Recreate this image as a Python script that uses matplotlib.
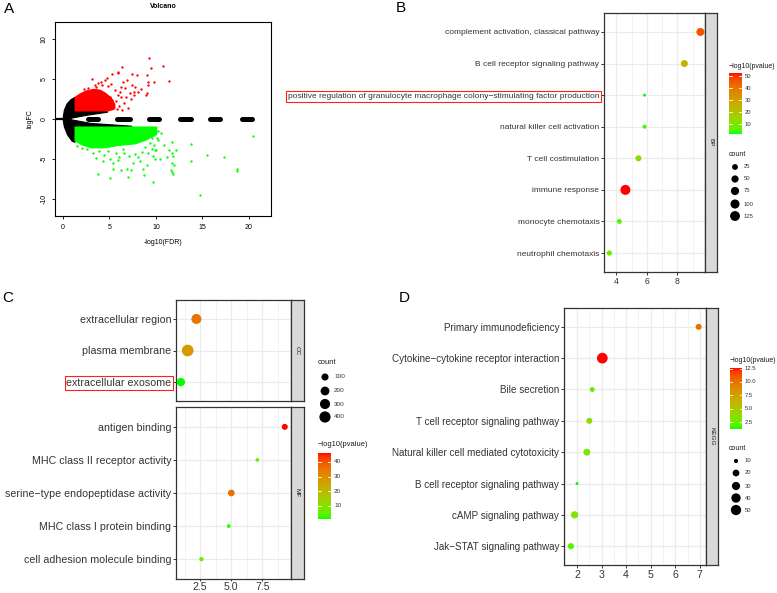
import numpy as np
import matplotlib
matplotlib.use("Agg")
import matplotlib.pyplot as plt
from matplotlib.colors import ListedColormap
from matplotlib.patches import Polygon

# ---------------- DATA ----------------
# Panel A: volcano (dense clouds given as envelopes, sparse points listed)
black_core_x = [0.0, 0.15, 0.45, 0.85, 1.3, 1.3, 4.8, 4.8, 2.5, 1.0, 0.7, 1.0, 3.0, 7.4, 7.4, 1.3, 1.3, 1.0, 0.5, 0.15]
black_core_y = [0.0, 1.1, 1.9, 2.4, 2.7, 1.0, 1.0, 0.85, 0.45, 0.12, 0.0, -0.12, -0.55, -0.9, -1.0, -1.0, -2.9, -2.8, -2.0, -1.0]
red_core_x = [1.3, 1.3, 1.8, 2.5, 3.3, 4.0, 4.6, 5.2, 5.6, 5.5, 4.8]
red_core_y = [1.0, 2.7, 3.1, 3.5, 3.7, 3.6, 3.2, 2.6, 1.8, 1.2, 1.0]
green_core_x = [1.3, 10.1, 10.1, 9.0, 7.8, 6.0, 4.5, 3.0, 2.0, 1.3]
green_core_y = [-1.0, -1.0, -1.9, -2.6, -3.1, -3.3, -3.6, -3.6, -3.2, -2.7]
red_x = [9.28, 9.53, 10.72, 6.31, 5.30, 5.88, 7.45, 7.96, 9.03, 3.15, 4.70, 4.05, 9.18, 9.78,
         8.92, 9.00, 6.49, 6.85, 7.38, 7.74, 7.60, 7.20, 6.70, 6.20, 5.60, 5.95, 5.20, 4.85,
         4.50, 3.80, 3.40, 2.70, 5.10, 5.30, 5.70, 6.30, 6.80, 7.70, 8.10, 11.40, 9.20, 5.95,
         6.00, 6.60, 7.00, 5.45, 4.20, 3.60, 2.30, 6.10, 7.30, 8.40, 5.80, 6.40]
red_y = [7.58, 6.42, 6.67, 6.54, 5.62, 5.79, 5.58, 5.50, 5.50, 4.96, 5.17, 4.67, 4.58, 4.58,
         3.00, 3.20, 4.67, 4.88, 4.25, 4.04, 3.42, 3.20, 3.90, 4.00, 3.60, 3.00, 4.40, 4.10,
         4.90, 4.50, 4.30, 3.90, 2.80, 2.40, 2.20, 2.80, 2.80, 3.00, 3.40, 4.75, 4.30, 5.90,
         1.60, 2.00, 1.40, 1.50, 4.20, 4.00, 3.70, 3.40, 2.50, 3.80, 1.20, 1.10]
green_x = [1.47, 3.55, 3.80, 4.44, 5.05, 5.40, 6.30, 6.85, 7.00, 7.56, 8.10, 8.75, 9.00, 9.70,
           9.90, 9.60, 9.20, 8.50, 7.80, 7.10, 6.60, 6.00, 5.75, 5.10, 4.30, 3.90, 3.20, 2.60,
           5.40, 5.90, 8.30, 8.60, 7.30, 9.90, 9.70, 10.25, 9.80, 10.10, 10.25, 9.55, 9.80,
           10.00, 9.70, 10.40, 11.15, 11.40, 11.70, 12.20, 11.70, 11.85, 11.70, 12.00, 11.60,
           11.70, 11.90, 13.75, 13.75, 15.55, 17.30, 18.75, 18.77, 20.50, 14.80, 8.80, 6.50,
           4.80, 2.10, 10.60, 10.90, 9.40]
green_y = [-3.33, -4.83, -6.90, -4.50, -7.40, -6.20, -6.40, -6.20, -7.20, -5.50, -4.80, -7.00,
           -5.75, -7.80, -3.90, -3.70, -4.30, -4.10, -4.40, -4.60, -4.20, -4.80, -4.30, -5.00,
           -5.20, -4.00, -4.30, -3.80, -5.50, -5.10, -5.30, -6.20, -6.40, -5.00, -1.17, -1.46,
           -2.00, -2.40, -2.60, -2.40, -3.20, -3.90, -4.60, -5.00, -4.70, -3.90, -2.90, -3.90,
           -4.30, -4.60, -5.50, -5.70, -6.40, -6.60, -6.80, -3.10, -5.20, -4.50, -4.80, -6.20,
           -6.45, -2.10, -9.50, -3.50, -3.70, -4.00, -3.60, -1.80, -3.30, -3.00]
dash_start = [2.4, 5.6, 9.0, 12.4, 15.6, 19.0]
dash_end = [4.0, 7.5, 10.6, 14.0, 17.2, 20.6]
volcano_xticks = [0, 5, 10, 15, 20]
volcano_yticks = [-10, -5, 0, 5, 10]

# Panel B: GO BP
bp_terms = ["complement activation, classical pathway",
            "B cell receptor signaling pathway",
            "positive regulation of granulocyte macrophage colony\u2212stimulating factor production",
            "natural killer cell activation",
            "T cell costimulation",
            "immune response",
            "monocyte chemotaxis",
            "neutrophil chemotaxis"]
bp_x = [9.5, 8.45, 5.85, 5.85, 5.45, 4.6, 4.2, 3.55]
bp_count = [69, 46, 5, 8, 28, 130, 15, 18]
bp_logp = [46, 25, 1.7, 4, 12, 52.5, 6, 7]
bp_count_breaks = [25, 50, 75, 100, 125]
bp_color_breaks = [10, 20, 30, 40, 50]

# Panel C: GO CC / MF
cc_terms = ["extracellular region", "plasma membrane", "extracellular exosome"]
cc_x = [2.2, 1.5, 0.95]
cc_count = [290, 450, 166]
cc_logp = [35, 28, 1.1]
mf_terms = ["antigen binding", "MHC class II receptor activity",
            "serine\u2212type endopeptidase activity", "MHC class I protein binding",
            "cell adhesion molecule binding"]
mf_x = [9.3, 7.1, 5.0, 4.8, 2.6]
mf_count = [55, 11, 82, 12, 16]
mf_logp = [46, 4, 36, 2, 5]
c_count_breaks = [100, 200, 300, 400]
c_color_breaks = [10, 20, 30, 40]

# Panel D: KEGG
kegg_terms = ["Primary immunodeficiency", "Cytokine\u2212cytokine receptor interaction",
              "Bile secretion", "T cell receptor signaling pathway",
              "Natural killer cell mediated cytotoxicity", "B cell receptor signaling pathway",
              "cAMP signaling pathway", "Jak\u2212STAT signaling pathway"]
kegg_x = [6.95, 3.03, 2.62, 2.5, 2.4, 2.0, 1.9, 1.75]
kegg_count = [16, 55, 12, 16, 21, 9, 23, 17]
kegg_logp = [10, 12.6, 2.5, 3.5, 3.0, 1.2, 3.3, 2.0]
d_count_breaks = [10, 20, 30, 40, 50]
d_color_breaks = [2.5, 5.0, 7.5, 10.0, 12.5]

# ---------------- STYLE HELPERS ----------------
plt.rcParams['font.family'] = ['Liberation Sans', 'DejaVu Sans']
W, H = 777, 593
fig = plt.figure(figsize=(W / 100, H / 100), dpi=100)


def fax(l, t, r, b, **kw):
    return fig.add_axes([l / W, 1 - b / H, (r - l) / W, (b - t) / H], **kw)


_M = np.array([[0.4124, 0.3576, 0.1805], [0.2126, 0.7152, 0.0722], [0.0193, 0.1192, 0.9505]])
_WP = np.array([0.95047, 1.0, 1.08883])


def to_lab(rgb):
    rgb = np.asarray(rgb, float)
    lin = np.where(rgb <= 0.04045, rgb / 12.92, ((rgb + 0.055) / 1.055) ** 2.4)
    t = (_M @ lin) / _WP
    f = np.where(t > (6 / 29) ** 3, np.cbrt(t), t / (3 * (6 / 29) ** 2) + 4 / 29)
    return np.array([116 * f[1] - 16, 500 * (f[0] - f[1]), 200 * (f[1] - f[2])])


def from_lab(lab):
    L, a, b = lab
    fy = (L + 16) / 116
    fx, fz = fy + a / 500, fy - b / 200
    finv = lambda t: np.where(t > 6 / 29, t ** 3, 3 * (6 / 29) ** 2 * (t - 4 / 29))
    xyz = np.array([finv(fx), finv(fy), finv(fz)]) * _WP
    lin = np.clip(np.linalg.inv(_M) @ xyz, 0, 1)
    return np.clip(np.where(lin <= 0.0031308, 12.92 * lin, 1.055 * lin ** (1 / 2.4) - 0.055), 0, 1)


lg, lr = to_lab([0, 1, 0]), to_lab([1, 0, 0])
cmap = ListedColormap([from_lab(lg + (lr - lg) * t) for t in np.linspace(0, 1, 256)])

GRID = '#EBEBEB'
BORDER = '#333333'
TXT = '#333333'


def size_fn(dmin, dmax, vmin, vmax):
    return lambda v: dmin + (dmax - dmin) * np.sqrt(np.clip((np.asarray(v, float) - vmin) / (vmax - vmin), 0, 1))


def dot_panel(box, strip_r, terms, xs, counts, logp, xlim, majors, minors, clim, sfn,
              fs_cat, fs_tick, strip_label, show_x=True, xlabels=None, xpad=1.2, xlen=2.2):
    l, t, r, b = box
    ax = fax(l, t, r, b)
    n = len(terms)
    ypos = np.arange(n)[::-1]
    ax.set_xlim(*xlim)
    ax.set_ylim(-0.6, n - 0.4)
    for xm in minors:
        ax.axvline(xm, color=GRID, lw=0.45, zorder=0)
    for xm in majors:
        ax.axvline(xm, color=GRID, lw=0.9, zorder=0)
    for y in ypos:
        ax.axhline(y, color=GRID, lw=0.9, zorder=0)
    d = sfn(counts) * 0.72
    ax.scatter(xs, ypos, s=d ** 2, c=logp, cmap=cmap, vmin=clim[0], vmax=clim[1],
               linewidths=0, zorder=3, clip_on=False)
    ax.set_yticks(ypos)
    ax.set_yticklabels(terms, fontsize=fs_cat, color=TXT)
    ax.set_xticks(majors)
    ax.tick_params(axis='y', length=2.2, width=0.7, color=BORDER, pad=1.2)
    if show_x:
        ax.set_xticklabels(xlabels if xlabels else [str(m) for m in majors], fontsize=fs_tick, color=TXT)
        ax.tick_params(axis='x', length=xlen, width=0.7, color=BORDER, pad=xpad)
    else:
        ax.set_xticklabels([])
        ax.tick_params(axis='x', length=0)
    for s in ax.spines.values():
        s.set_color(BORDER)
        s.set_linewidth(0.9)
    sax = fax(r, t, strip_r, b)
    sax.set_facecolor('#D9D9D9')
    sax.set_xticks([])
    sax.set_yticks([])
    for s in sax.spines.values():
        s.set_color(BORDER)
        s.set_linewidth(0.9)
    sax.text(0.5, 0.5, strip_label, rotation=270, ha='center', va='center',
             fontsize=4.6, color='#1A1A1A', transform=sax.transAxes)
    return ax


# ---------------- PANEL A ----------------
axA = fax(55, 22, 271, 216)
axA.set_xlim(-0.86, 22.4)
axA.set_ylim(-12.1, 12.1)
axA.add_patch(Polygon(np.column_stack([black_core_x, black_core_y]), closed=True, fc='black', ec='black', lw=0.8))
axA.plot([-0.86, 0.3], [0, 0], color='black', lw=1.6, solid_capstyle='butt')
lc = axA.hlines([0] * len(dash_start), np.array(dash_start) + 0.25, np.array(dash_end) - 0.25,
                colors='black', lw=3.6)
lc.set_capstyle('round')
axA.add_patch(Polygon(np.column_stack([red_core_x, red_core_y]), closed=True, fc='#FF0000', ec='#FF0000', lw=0.8))
axA.add_patch(Polygon(np.column_stack([green_core_x, green_core_y]), closed=True, fc='#00FF00', ec='#00FF00', lw=0.8))
axA.plot(red_x, red_y, 'o', color='#FF0000', ms=1.7, mew=0)
axA.plot(green_x, green_y, 'o', color='#00FF00', ms=1.7, mew=0)
axA.set_xticks(volcano_xticks)
axA.set_xticklabels([str(v) for v in volcano_xticks], fontsize=5)
axA.set_yticks(volcano_yticks)
axA.set_yticklabels([str(v) for v in volcano_yticks], fontsize=5, rotation=90, va='center')
axA.tick_params(length=2.5, width=0.6, pad=3)
for s in axA.spines.values():
    s.set_linewidth(0.8)

# ---------------- PANEL B ----------------
sB = size_fn(3.0, 10.0, 5, 130)
axB = dot_panel((604, 13, 705, 272), 717, bp_terms, bp_x, bp_count, bp_logp, (3.2, 9.8),
                [4, 6, 8], [5, 7, 9], (1.7, 52.5), sB, 6.0, 6.2, 'BP')
axB.get_yticklabels()[2].set_bbox(dict(boxstyle='square,pad=0.25', fc='none', ec='#FF2020', lw=0.8))

# ---------------- PANEL C ----------------
sC = size_fn(3.3, 11.7, 10, 450)
axC1 = dot_panel((176, 300, 291, 401), 304, cc_terms, cc_x, cc_count, cc_logp, (0.56, 9.8),
                 [2.5, 5.0, 7.5], [1.25, 3.75, 6.25, 8.75], (1.1, 46), sC, 7.7, 8.4, 'CC', show_x=False)
axC1.get_yticklabels()[2].set_bbox(dict(boxstyle='square,pad=0.15', fc='none', ec='#FF2020', lw=0.8))
axC2 = dot_panel((176, 407, 291, 579), 304, mf_terms, mf_x, mf_count, mf_logp, (0.56, 9.8),
                 [2.5, 5.0, 7.5], [1.25, 3.75, 6.25, 8.75], (1.1, 46), sC, 7.7, 7.6, 'MF',
                 xlabels=['2.5', '5.0', '7.5'], xpad=0.3, xlen=1.5)

# ---------------- PANEL D ----------------
sD = size_fn(3.0, 10.7, 9, 55)
axD = dot_panel((564, 308, 706, 565), 718, kegg_terms, kegg_x, kegg_count, kegg_logp, (1.47, 7.25),
                [2, 3, 4, 5, 6, 7], [1.5, 2.5, 3.5, 4.5, 5.5, 6.5], (1.2, 12.6), sD, 7.1, 7.6, 'KEGG')

# ---------------- OVERLAY: titles, legends ----------------
ov = fig.add_axes([0, 0, 1, 1], zorder=10)
ov.patch.set_alpha(0)
ov.axis('off')

for lab, x, y in [('A', 4, 9), ('B', 396, 8), ('C', 2, 298), ('D', 399, 298)]:
    ov.text(x, y, lab, fontsize=11, ha='left', va='center')
ov.text(163, 7, 'Volcano', fontsize=5, fontweight='bold', ha='center', va='center')
ov.text(163, 242, '-log10(FDR)', fontsize=5, ha='center', va='center')
ov.text(30, 119, 'logFC', fontsize=5, ha='center', va='center', rotation=90)


def colorbar(x0, x1, ytop, ybot, clim, breaks, labels, title, title_y, fs):
    grad = np.linspace(0, 1, 256).reshape(-1, 1)
    ov.imshow(grad, cmap=cmap, origin='lower', extent=[x0, x1, ybot, ytop], aspect='auto', zorder=2)
    ov.text(x0, title_y, title, fontsize=fs, ha='left', va='center', color='#1A1A1A')
    for v, s in zip(breaks, labels):
        y = ybot - (v - clim[0]) / (clim[1] - clim[0]) * (ybot - ytop)
        wdt = (x1 - x0) / 5
        ov.plot([x0, x0 + wdt], [y, y], color='white', lw=0.6, zorder=3)
        ov.plot([x1 - wdt, x1], [y, y], color='white', lw=0.6, zorder=3)
        ov.text(x1 + 3, y, s, fontsize=fs * 0.85, ha='left', va='center', color='#333333')


def size_legend(xdot, xlab, ys, breaks, sfn, title, title_x, title_y, fs):
    ov.text(title_x, title_y, title, fontsize=fs, ha='left', va='center', color='#1A1A1A')
    d = sfn(breaks) * 0.72
    ov.scatter([xdot] * len(ys), ys, s=d ** 2, color='black', linewidths=0, zorder=3)
    for y, v in zip(ys, breaks):
        ov.text(xlab, y, str(v), fontsize=fs * 0.85, ha='left', va='center', color='#333333')


colorbar(729, 742, 73, 134, (1.7, 52.5), bp_color_breaks, [str(v) for v in bp_color_breaks],
         '\u2212log10(pvalue)', 66, 5.0)
size_legend(735, 744, [167, 179, 191, 204, 216], bp_count_breaks, sB, 'count', 729, 154, 5.0)

size_legend(325, 334, [377, 391, 404, 417], c_count_breaks, sC, 'count', 318, 363, 5.4)
colorbar(318, 331, 453, 519, (1.1, 46), c_color_breaks, [str(v) for v in c_color_breaks],
         '\u2212log10(pvalue)', 445, 5.4)

colorbar(730, 742, 368, 429, (1.2, 12.6), d_color_breaks, ['2.5', '5.0', '7.5', '10.0', '12.5'],
         '\u2212log10(pvalue)', 361, 5.0)
size_legend(736, 745, [461, 473, 486, 498, 510], d_count_breaks, sD, 'count', 729, 449, 5.0)

ov.set_xlim(0, W)
ov.set_ylim(H, 0)

fig.savefig('out.png', dpi=100)
